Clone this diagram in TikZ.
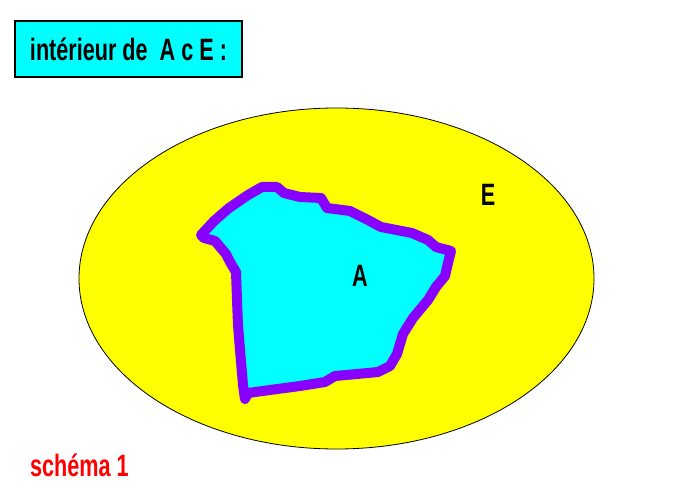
\documentclass[tikz,border=0pt]{standalone}
\usepackage{fontspec}
\setmainfont{Liberation Sans}
\usetikzlibrary{positioning}
\definecolor{aqua}{RGB}{0,255,255}
\definecolor{jaune}{RGB}{255,255,0}
\definecolor{violet}{RGB}{136,0,255}
\definecolor{rouge}{RGB}{255,0,0}

\begin{document}
\begin{tikzpicture}[x=1bp,y=-1bp,
    lbl/.style={font=\fontsize{31}{31}\selectfont\bfseries,inner sep=0pt}]
  \useasboundingbox[fill=white] (0,0) rectangle (687,500);
  \node[draw,fill=aqua,line width=1.2bp,minimum width=227bp,minimum height=56bp,
        lbl] (titre) at (128.5,49) {\scalebox{0.7}[1]{intérieur de\; A c E :}};
  \draw[fill=jaune,line width=0.8bp] (336.5,278.5) ellipse [x radius=257.5, y radius=170.5];
  \draw[fill=aqua,draw=violet,line width=10bp,line join=round]
    (201,235) -- (214,221) -- (229,208) -- (248,195) -- (262,187) -- (277,187)
    -- (284,193) -- (300,197) -- (321,198) -- (327,208) -- (350,211)
    -- (368,220) -- (381,227) -- (412,233) -- (428,240) -- (436,247)
    -- (451,251) -- (448,263) -- (445,276) -- (436,287) -- (428,300)
    -- (413,318) -- (403,334) -- (397,354) -- (390,366) -- (378,372)
    -- (357,374) -- (335,376) -- (325,382) -- (300,386) -- (270,390)
    -- (248,393) -- (245,399) -- (243,385) -- (240,350) -- (238,325)
    -- (237,300) -- (236,272) -- (230,262) -- (226,254) -- (215,241)
    -- (204,238) -- cycle;
  \node[lbl] (a) at (360,276) {\scalebox{0.7}[1]{A}};
  \node[lbl] (e) at (488,195) {\scalebox{0.7}[1]{E}};
  \node[lbl,text=rouge,anchor=west] (schema) at (30,465) {\scalebox{0.7}[1]{schéma 1}};
\end{tikzpicture}
\end{document}
